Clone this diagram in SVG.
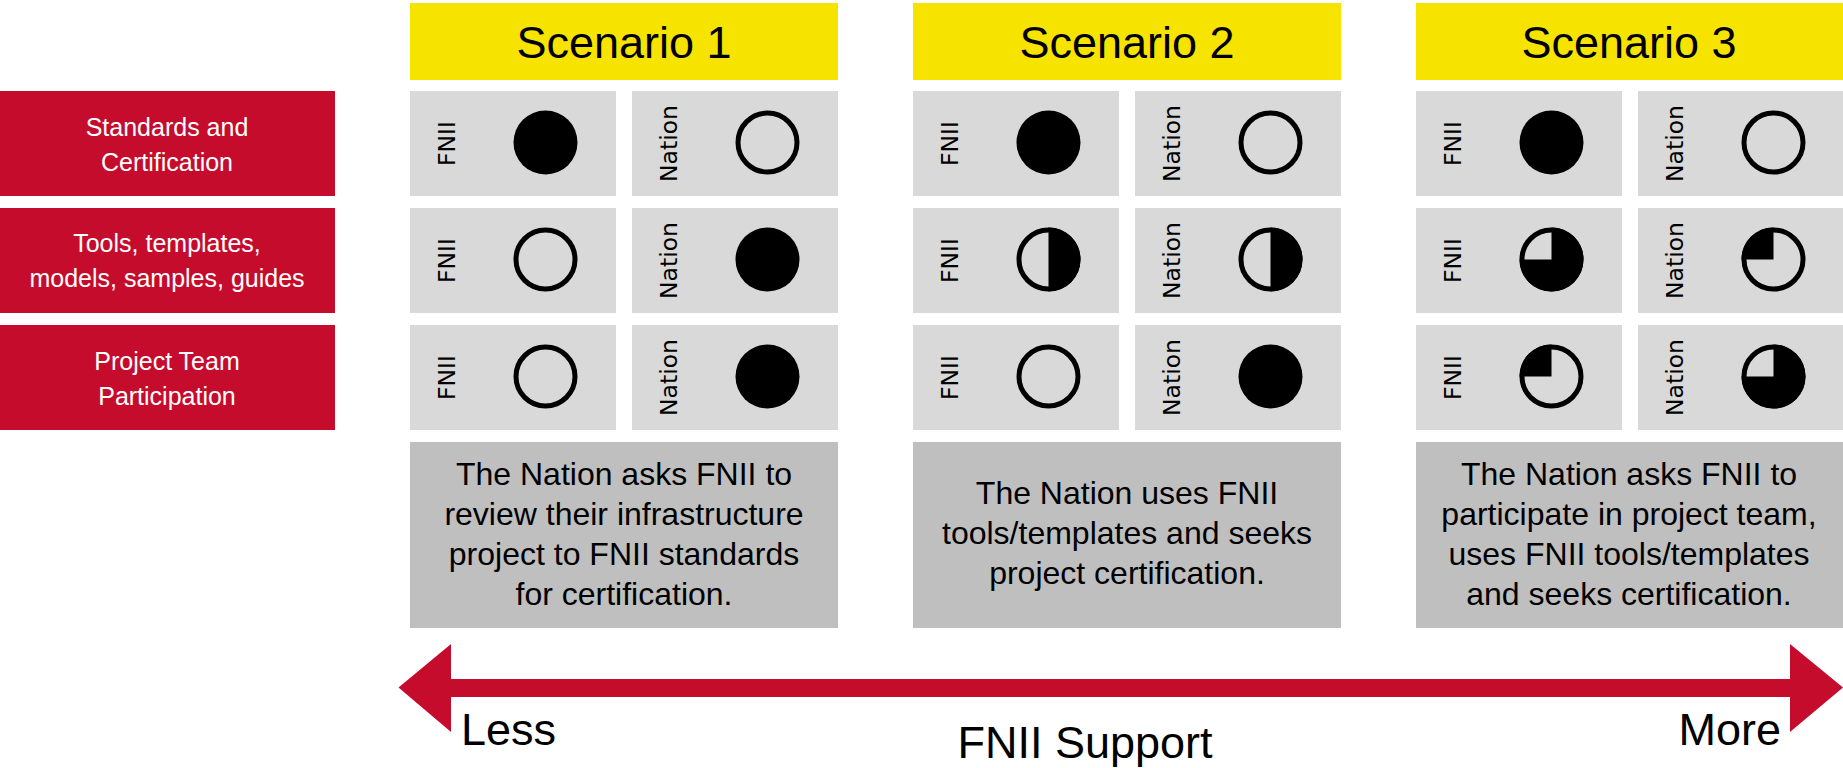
<svg xmlns="http://www.w3.org/2000/svg" width="1843" height="768" viewBox="0 0 1843 768">
<defs>
<style>
.red{fill:#C60C2D}
.yel{fill:#F7E300}
.cell{fill:#D9D9D9}
.desc{fill:#BFBFBF}
.rt{font-family:"Liberation Sans",Arial,sans-serif;font-size:25px;fill:#FFFFFF;text-anchor:middle}
.hd{font-family:"Liberation Sans",Arial,sans-serif;font-size:45px;fill:#000;text-anchor:middle}
.dt{font-family:"Liberation Sans",Arial,sans-serif;font-size:32px;fill:#000;text-anchor:middle}
.ax{font-family:"Liberation Sans",Arial,sans-serif;font-size:45px;fill:#000}
.fn,.na{font-family:"DejaVu Sans",sans-serif;font-size:23.5px;fill:#000;text-anchor:middle}
.full{fill:#000}
.ring{fill:none;stroke:#000;stroke-width:5}
</style>
</defs>
<rect width="1843" height="768" fill="#FFFFFF"/>

<g id="row-labels">
<g id="row1-label"><rect class="red" x="0" y="91" width="335" height="105"/><text class="rt" x="167" y="136">Standards and</text><text class="rt" x="167" y="171">Certification</text></g>
<g id="row2-label"><rect class="red" x="0" y="208" width="335" height="105"/><text class="rt" x="167" y="252">Tools, templates,</text><text class="rt" x="167" y="287">models, samples, guides</text></g>
<g id="row3-label"><rect class="red" x="0" y="325" width="335" height="105"/><text class="rt" x="167" y="370">Project Team</text><text class="rt" x="167" y="405">Participation</text></g>
</g>

<g id="headers">
<g id="scenario1"><rect class="yel" x="410" y="3" width="428" height="77"/><text class="hd" x="624" y="58">Scenario 1</text></g>
<g id="scenario2"><rect class="yel" x="913" y="3" width="428" height="77"/><text class="hd" x="1127" y="58">Scenario 2</text></g>
<g id="scenario3"><rect class="yel" x="1416" y="3" width="427" height="77"/><text class="hd" x="1629" y="58">Scenario 3</text></g>
</g>

<g id="cells">
<!-- Row 1 -->
<g id="s1-r1-fnii"><rect class="cell" x="410" y="91" width="206" height="105"/><text class="fn" transform="translate(455,143.5) rotate(-90)">FNII</text><circle class="full" cx="545.5" cy="142.5" r="32"/></g>
<g id="s1-r1-nation"><rect class="cell" x="632" y="91" width="206" height="105"/><text class="na" transform="translate(677,143.5) rotate(-90)">Nation</text><circle class="ring" cx="767.5" cy="142.5" r="29.5"/></g>
<g id="s2-r1-fnii"><rect class="cell" x="913" y="91" width="206" height="105"/><text class="fn" transform="translate(958,143.5) rotate(-90)">FNII</text><circle class="full" cx="1048.5" cy="142.5" r="32"/></g>
<g id="s2-r1-nation"><rect class="cell" x="1135" y="91" width="206" height="105"/><text class="na" transform="translate(1180,143.5) rotate(-90)">Nation</text><circle class="ring" cx="1270.5" cy="142.5" r="29.5"/></g>
<g id="s3-r1-fnii"><rect class="cell" x="1416" y="91" width="206" height="105"/><text class="fn" transform="translate(1461,143.5) rotate(-90)">FNII</text><circle class="full" cx="1551.5" cy="142.5" r="32"/></g>
<g id="s3-r1-nation"><rect class="cell" x="1638" y="91" width="205" height="105"/><text class="na" transform="translate(1683,143.5) rotate(-90)">Nation</text><circle class="ring" cx="1773.5" cy="142.5" r="29.5"/></g>

<!-- Row 2 -->
<g id="s1-r2-fnii"><rect class="cell" x="410" y="208" width="206" height="105"/><text class="fn" transform="translate(455,260.5) rotate(-90)">FNII</text><circle class="ring" cx="545.5" cy="259.5" r="29.5"/></g>
<g id="s1-r2-nation"><rect class="cell" x="632" y="208" width="206" height="105"/><text class="na" transform="translate(677,260.5) rotate(-90)">Nation</text><circle class="full" cx="767.5" cy="259.5" r="32"/></g>
<g id="s2-r2-fnii"><rect class="cell" x="913" y="208" width="206" height="105"/><text class="fn" transform="translate(958,260.5) rotate(-90)">FNII</text><circle class="ring" cx="1048.5" cy="259.5" r="29.5"/><path class="full" d="M1048.5 227.5 A32 32 0 0 1 1048.5 291.5 Z"/></g>
<g id="s2-r2-nation"><rect class="cell" x="1135" y="208" width="206" height="105"/><text class="na" transform="translate(1180,260.5) rotate(-90)">Nation</text><circle class="ring" cx="1270.5" cy="259.5" r="29.5"/><path class="full" d="M1270.5 227.5 A32 32 0 0 1 1270.5 291.5 Z"/></g>
<g id="s3-r2-fnii"><rect class="cell" x="1416" y="208" width="206" height="105"/><text class="fn" transform="translate(1461,260.5) rotate(-90)">FNII</text><circle class="ring" cx="1551.5" cy="259.5" r="29.5"/><path class="full" d="M1551.5 259.5 L1519.5 259.5 A32 32 0 1 0 1551.5 227.5 Z"/></g>
<g id="s3-r2-nation"><rect class="cell" x="1638" y="208" width="205" height="105"/><text class="na" transform="translate(1683,260.5) rotate(-90)">Nation</text><circle class="ring" cx="1773.5" cy="259.5" r="29.5"/><path class="full" d="M1773.5 259.5 L1773.5 227.5 A32 32 0 0 0 1741.5 259.5 Z"/></g>

<!-- Row 3 -->
<g id="s1-r3-fnii"><rect class="cell" x="410" y="325" width="206" height="105"/><text class="fn" transform="translate(455,377.5) rotate(-90)">FNII</text><circle class="ring" cx="545.5" cy="376.5" r="29.5"/></g>
<g id="s1-r3-nation"><rect class="cell" x="632" y="325" width="206" height="105"/><text class="na" transform="translate(677,377.5) rotate(-90)">Nation</text><circle class="full" cx="767.5" cy="376.5" r="32"/></g>
<g id="s2-r3-fnii"><rect class="cell" x="913" y="325" width="206" height="105"/><text class="fn" transform="translate(958,377.5) rotate(-90)">FNII</text><circle class="ring" cx="1048.5" cy="376.5" r="29.5"/></g>
<g id="s2-r3-nation"><rect class="cell" x="1135" y="325" width="206" height="105"/><text class="na" transform="translate(1180,377.5) rotate(-90)">Nation</text><circle class="full" cx="1270.5" cy="376.5" r="32"/></g>
<g id="s3-r3-fnii"><rect class="cell" x="1416" y="325" width="206" height="105"/><text class="fn" transform="translate(1461,377.5) rotate(-90)">FNII</text><circle class="ring" cx="1551.5" cy="376.5" r="29.5"/><path class="full" d="M1551.5 376.5 L1551.5 344.5 A32 32 0 0 0 1519.5 376.5 Z"/></g>
<g id="s3-r3-nation"><rect class="cell" x="1638" y="325" width="205" height="105"/><text class="na" transform="translate(1683,377.5) rotate(-90)">Nation</text><circle class="ring" cx="1773.5" cy="376.5" r="29.5"/><path class="full" d="M1773.5 376.5 L1741.5 376.5 A32 32 0 1 0 1773.5 344.5 Z"/></g>
</g>

<g id="descriptions">
<g id="desc1"><rect class="desc" x="410" y="442" width="428" height="186"/>
<text class="dt" x="624" y="485">The Nation asks FNII to</text>
<text class="dt" x="624" y="525">review their infrastructure</text>
<text class="dt" x="624" y="565">project to FNII standards</text>
<text class="dt" x="624" y="605">for certification.</text></g>
<g id="desc2"><rect class="desc" x="913" y="442" width="428" height="186"/>
<text class="dt" x="1127" y="504">The Nation uses FNII</text>
<text class="dt" x="1127" y="544">tools/templates and seeks</text>
<text class="dt" x="1127" y="584">project certification.</text></g>
<g id="desc3"><rect class="desc" x="1416" y="442" width="427" height="186"/>
<text class="dt" x="1629" y="485">The Nation asks FNII to</text>
<text class="dt" x="1629" y="525">participate in project team,</text>
<text class="dt" x="1629" y="565">uses FNII tools/templates</text>
<text class="dt" x="1629" y="605">and seeks certification.</text></g>
</g>

<g id="support-axis">
<polygon class="red" points="398.5,687.5 451,644 451,679 1790,679 1790,644 1843,687.5 1790,732 1790,697 451,697 451,732"/>
<text class="ax" x="461" y="745">Less</text>
<text class="ax" x="1085" y="758" text-anchor="middle">FNII Support</text>
<text class="ax" x="1781" y="745" text-anchor="end">More</text>
</g>
</svg>
